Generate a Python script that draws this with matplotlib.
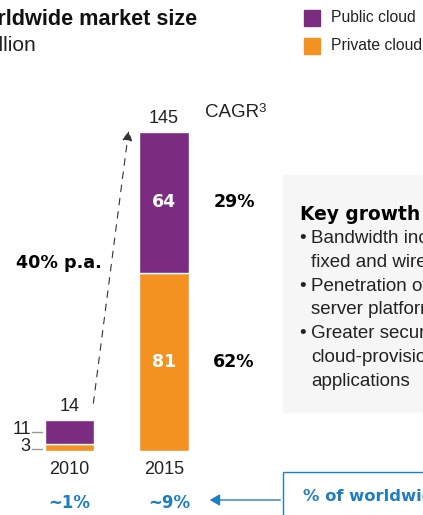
import matplotlib.pyplot as plt
from matplotlib.patches import Rectangle, FancyArrowPatch

# Data
years = ['2010', '2015']
private_cloud = [3, 81]
public_cloud = [11, 64]
totals = [14, 145]
cagr = {'public': '29%', 'private': '62%'}
share_of_worldwide = ['~1%', '~9%']
growth_label = '40% p.a.'
drivers = [
    ('Bandwidth increases in', 'fixed and wireless networks'),
    ('Penetration of virtualized', 'server platforms'),
    ('Greater security of', 'cloud-provisioned', 'applications'),
]

PURPLE = '#7B2B80'
ORANGE = '#F39220'
BLUE = '#1F7DC2'
W, H = 423, 515

fig = plt.figure(figsize=(W / 100, H / 100), dpi=100)


def fx(x):
    return x / W


def fy(y):
    return 1 - y / H


REG = 'Liberation Sans'
HEAVY = 'DejaVu Sans'
TXT = '#222222'

# bar axes: y=0 at px 451, y=145 at px 132
ax = fig.add_axes([0, fy(451), 1, fy(132) - fy(451)])
ax.set_ylim(0, 145)
ax.set_xlim(-69.5 / 94.5, (W - 69.5) / 94.5)
ax.axis('off')

x = range(len(years))
ax.bar(x, private_cloud, width=0.52, color=ORANGE, edgecolor='white', linewidth=1)
ax.bar(x, public_cloud, width=0.52, bottom=private_cloud, color=PURPLE,
       edgecolor='white', linewidth=1)

# totals above bars
for i, t in enumerate(totals):
    ax.text(i, t + 2.2, str(t), ha='center', va='bottom', fontsize=13,
            family=REG, color=TXT)

# values inside 2015 bar
ax.text(1, private_cloud[1] / 2, str(private_cloud[1]), ha='center', va='center',
        fontsize=12.5, color='white', fontweight='bold', family=HEAVY)
ax.text(1, private_cloud[1] + public_cloud[1] / 2, str(public_cloud[1]), ha='center',
        va='center', fontsize=12.5, color='white', fontweight='bold', family=HEAVY)

# side labels for 2010
for val, mid in [(public_cloud[0], private_cloud[0] + public_cloud[0] / 2),
                 (private_cloud[0], private_cloud[0] / 2 - 0.5)]:
    ax.plot([-0.40, -0.29], [mid, mid], color='#999999', lw=1, clip_on=False)
    ax.text(-0.41, mid + 1.2, str(val), ha='right', va='center', fontsize=13,
            family=REG, color=TXT)

# CAGR column
ax.text(1.74, private_cloud[1] + public_cloud[1] / 2, cagr['public'], ha='center',
        va='center', fontsize=12.5, fontweight='bold', family=HEAVY)
ax.text(1.74, private_cloud[1] / 2, cagr['private'], ha='center', va='center',
        fontsize=12.5, fontweight='bold', family=HEAVY)

# year labels and share labels
for i, yr in enumerate(years):
    ax.text(i, -8.6, yr, ha='center', va='center', fontsize=13, family=REG,
            color=TXT, clip_on=False)
ax.text(0, -23.6, share_of_worldwide[0], ha='center', va='center', fontsize=12,
        fontweight='bold', family=HEAVY, color=BLUE)
ax.text(1.06, -23.6, share_of_worldwide[1], ha='center', va='center', fontsize=12,
        fontweight='bold', family=HEAVY, color=BLUE)

# title
fig.text(fx(197), fy(25), 'Worldwide market size', fontsize=15.6, fontweight='bold',
         family=REG, color='#111111', va='baseline', ha='right')
fig.text(fx(36), fy(51), '$ billion', fontsize=15, family=REG, color=TXT,
         va='baseline', ha='right')

# legend
fig.patches.append(Rectangle((fx(304), fy(26)), fx(16), 16 / H, color=PURPLE,
                             transform=fig.transFigure))
fig.patches.append(Rectangle((fx(304), fy(54)), fx(16), 16 / H, color=ORANGE,
                             transform=fig.transFigure))
fig.text(fx(331), fy(18), 'Public cloud', fontsize=11.3, family=REG, va='center',
         color=TXT)
fig.text(fx(331), fy(46), 'Private cloud', fontsize=11.3, family=REG, va='center',
         color=TXT)

# CAGR header
fig.text(fx(205), fy(117), 'CAGR', fontsize=13.5, family=REG, va='baseline',
         color=TXT)
fig.text(fx(258.5), fy(111.5), '3', fontsize=9.5, family=REG, va='baseline',
         color=TXT)

# growth arrow
fig.add_artist(FancyArrowPatch(
    (fx(93), fy(406)), (fx(129), fy(128)), transform=fig.transFigure,
    arrowstyle='-|>,head_length=6,head_width=3', linestyle=(0, (6, 6)),
    color='#333333', lw=0.8))
fig.text(fx(16), fy(263), growth_label, fontsize=12.6, fontweight='bold',
         family=HEAVY, va='center')

# key growth drivers box
fig.patches.append(Rectangle((fx(283), fy(412)), fx(200), (412 - 175) / H,
                             color='#F6F6F6', transform=fig.transFigure, zorder=0))
fig.text(fx(300), fy(214), 'Key growth drivers', fontsize=13.4, fontweight='bold',
         family=HEAVY, va='center')
ypos = 239
for item in drivers:
    fig.text(fx(299), fy(ypos), '\u2022', fontsize=13.5, family=REG, va='center',
             color=TXT)
    for line in item:
        fig.text(fx(311), fy(ypos), line, fontsize=13.5, family=REG, va='center',
                 color=TXT)
        ypos += 23.5
    ypos += 0.5

# bottom blue box and arrow
fig.patches.append(Rectangle((fx(283), fy(530)), fx(200), (530 - 472) / H,
                             facecolor='white', edgecolor=BLUE, lw=1,
                             transform=fig.transFigure))
fig.add_artist(FancyArrowPatch(
    (fx(283), fy(500)), (fx(207), fy(500)), transform=fig.transFigure,
    arrowstyle='-|>,head_length=6,head_width=3.5', color=BLUE, lw=1))
fig.text(fx(303), fy(497), '% of worldwide IT spend', fontsize=11.8, fontweight='bold',
         family=HEAVY, va='center', color=BLUE)

fig.savefig('out.png', dpi=100)
